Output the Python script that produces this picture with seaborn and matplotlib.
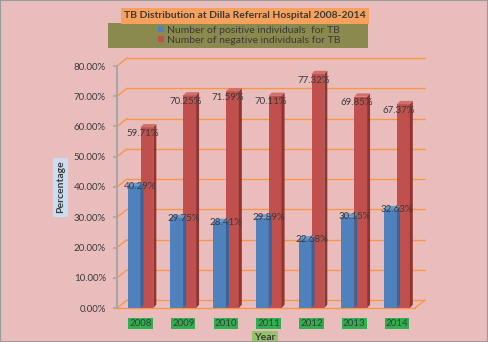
import numpy as np
import pandas as pd
import matplotlib.pyplot as plt
import seaborn as sns
from matplotlib.colors import to_rgb
from matplotlib.patches import Polygon, Rectangle
from matplotlib.ticker import PercentFormatter

years = ["2008", "2009", "2010", "2011", "2012", "2013", "2014"]
positive = [40.29, 29.75, 28.41, 29.89, 22.68, 30.15, 32.63]
negative = [59.71, 70.25, 71.59, 70.11, 77.32, 69.85, 67.37]
series = ["Number of positive individuals  for TB", "Number of negative individuals for TB"]
title = "TB Distribution at Dilla Referral Hospital 2008-2014"

df = pd.DataFrame({
    "Year": years * 2,
    "Type": [series[0]] * len(years) + [series[1]] * len(years),
    "Value": [v / 100 for v in positive + negative],
})

sns.set_theme(style="white")
plt.rcParams["font.family"] = ["Lato", "DejaVu Sans"]

bg = "#EABDBD"
blue, red = "#4F81BD", "#C0504D"
side = {blue: "#3B6496", red: "#8E3532"}
top = {blue: "#6D98CC", red: "#D0706D"}
grid_c = "#F79646"
txt = "#3A3A3A"

fig = plt.figure(figsize=(4.88, 3.42), dpi=100, facecolor=bg)
ax = fig.add_axes([117 / 488, 1 - 308 / 342, 308 / 488, 242 / 342])
ax.set_facecolor("none")

sns.barplot(data=df, x="Year", y="Value", hue="Type", palette=[blue, red],
            width=0.6, saturation=1, linewidth=0, ax=ax, legend=False, zorder=3)

ax.set_xlim(-0.55, 6.655)
ax.set_ylim(0, 0.8)

# fake 3D: side and top faces from the bar geometry
dx, dy = 0.07, 0.011
for p in list(ax.patches):
    x, w, h = p.get_x(), p.get_width(), p.get_height()
    fc = blue if np.allclose(p.get_facecolor()[:3], to_rgb(blue)) else red
    ax.add_patch(Polygon([(x + w, 0), (x + w + dx, dy), (x + w + dx, h + dy), (x + w, h)],
                         closed=True, fc=side[fc], ec="none", zorder=3))
    ax.add_patch(Polygon([(x, h), (x + dx, h + dy), (x + w + dx, h + dy), (x + w, h)],
                         closed=True, fc=top[fc], ec="none", zorder=3))

# 3D back-wall gridlines
gx, gy = 10 / 308, 0.0264
ticks = np.arange(0, 0.81, 0.1)
ytr = ax.get_yaxis_transform()
for v in ticks:
    ax.plot([0, gx], [v, v + gy], color=grid_c, lw=1, transform=ytr, clip_on=False, zorder=1)
    ax.plot([gx, 1], [v + gy, v + gy], color=grid_c, lw=1, transform=ytr, clip_on=False, zorder=1)
# floor front edge
ax.plot([0, 1 - gx], [0, 0], color=grid_c, lw=1, transform=ytr, clip_on=False, zorder=1)
ax.plot([1 - gx, 1], [0, gy], color=grid_c, lw=1, transform=ytr, clip_on=False, zorder=1)

# value labels
for i, (cont, vals) in enumerate(zip(ax.containers, [positive, negative])):
    for bar, v in zip(cont, vals):
        xc = bar.get_x() + (bar.get_width() if i == 0 else 0.05)
        ax.text(xc, v / 100 - (0 if i == 0 else 0.02), f"{v:.2f}%", ha="center", va="center",
                fontsize=7, color=txt, zorder=5)

for s in ["top", "right", "bottom"]:
    ax.spines[s].set_visible(False)
ax.spines["left"].set_color("#A6A6A6")
ax.spines["left"].set_linewidth(1.5)
ax.yaxis.set_major_formatter(PercentFormatter(1.0, decimals=2))
ax.set_yticks(ticks)
ax.tick_params(axis="y", left=True, length=3, color="#A6A6A6", labelsize=7, labelcolor=txt, pad=5)
ax.tick_params(axis="x", bottom=False, labelsize=7, labelcolor=txt, pad=2)
for lab in ax.get_xticklabels():
    lab.set_bbox(dict(boxstyle="square,pad=0.1", fc="#2FB04E", ec="none"))

ax.set_xlabel("Year", fontsize=7.5, fontweight="bold", color=txt, labelpad=1,
              bbox=dict(boxstyle="square,pad=0.25", fc="#94C36A", ec="none"))
ax.set_ylabel("Percentage", fontsize=7.5, fontweight="bold", color=txt,
              bbox=dict(boxstyle="square,pad=0.3", fc="#C9DDF0", ec="none"))
ax.yaxis.set_label_coords(-0.169, 0.5)
ax.xaxis.set_label_coords(0.48, -0.105)

# title and legend boxes
fig.text(245 / 488, 1 - 16 / 342, title, ha="center", va="center", fontsize=7.5,
         fontweight="bold", color=txt,
         bbox=dict(boxstyle="square,pad=0.3", fc="#F8A15C", ec="none"))
fig.patches.append(Rectangle((108 / 488, 1 - 48 / 342), 260 / 488, 25 / 342,
                             transform=fig.transFigure, fc="#8A8A4E", ec="none"))
handles = [Rectangle((0, 0), 1, 1, fc=blue, ec="none"), Rectangle((0, 0), 1, 1, fc=red, ec="none")]
fig.legend(handles, series, loc="center left", bbox_to_anchor=(153 / 488, 1 - 35.5 / 342),
           frameon=False, fontsize=7.5, labelcolor=txt, handlelength=0.55, handleheight=0.55,
           handletextpad=0.3, labelspacing=0.1, borderpad=0)

fig.patches.append(Rectangle((0, 0), 1, 1, transform=fig.transFigure, fc="none",
                             ec="#9A9A9A", lw=1.5))

fig.savefig("out.png", dpi=100, facecolor=bg)
